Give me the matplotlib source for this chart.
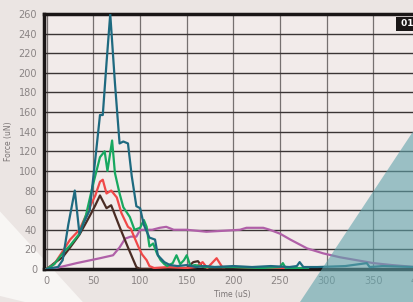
import matplotlib
matplotlib.use("Agg")
import matplotlib.pyplot as plt
from matplotlib.patches import Polygon

# Data (time in uS, force in uN)
blue_t = [0, 5, 12, 17, 23, 30, 35, 40, 46, 53, 57, 60, 64, 68, 73, 78, 82, 87, 91, 96, 100, 104, 110, 116, 119, 126, 132, 140, 150, 160, 170, 180, 200, 220, 240, 260, 268, 271, 275, 290, 320, 343, 346, 360, 395]
blue_f = [0, 1, 2, 9, 45, 80, 36, 48, 60, 121, 157, 157, 210, 260, 190, 128, 130, 128, 95, 64, 62, 45, 32, 30, 14, 7, 4, 3, 4, 2, 3, 2, 3, 2, 3, 2, 3, 7, 2, 2, 3, 6, 2, 3, 2]

green_t = [0, 8, 17, 25, 35, 42, 49, 57, 62, 65, 70, 73, 78, 82, 89, 94, 100, 104, 107, 110, 114, 118, 122, 126, 129, 135, 139, 143, 147, 150, 154, 159, 170, 200, 230, 250, 253, 256, 280]
green_f = [0, 5, 16, 24, 36, 55, 84, 114, 120, 100, 131, 98, 77, 63, 53, 40, 42, 50, 43, 23, 26, 16, 9, 5, 3, 6, 14, 5, 9, 14, 3, 4, 2, 2, 1, 2, 6, 1, 1]

red_t = [0, 8, 17, 25, 35, 46, 52, 57, 60, 64, 69, 75, 80, 87, 90, 94, 98, 102, 107, 110, 115, 130, 150, 160, 167, 172, 182, 188, 200, 230, 260]
red_f = [0, 5, 18, 30, 40, 63, 75, 89, 91, 77, 80, 73, 57, 43, 41, 32, 23, 15, 9, 3, 1, 2, 1, 2, 7, 1, 11, 2, 2, 1, 1]

brown_t = [0, 8, 17, 25, 35, 46, 52, 57, 64, 69, 78, 87, 96, 100, 130, 150, 157, 162, 166, 170, 190]
brown_f = [0, 6, 12, 22, 35, 54, 65, 75, 62, 65, 43, 22, 2, 0, 0, 1, 7, 8, 3, 1, 0]

purple_t = [0, 10, 32, 57, 71, 78, 84, 90, 96, 100, 113, 121, 128, 136, 150, 171, 190, 207, 214, 232, 239, 250, 261, 279, 296, 314, 332, 350, 370, 395]
purple_f = [0, 1, 6, 11, 14, 22, 31, 33, 33, 40, 40, 42, 43, 40, 40, 38, 39, 40, 42, 42, 40, 36, 30, 21, 16, 12, 9, 6, 4, 2]

y_ticks = list(range(0, 261, 20))
x_ticks = list(range(0, 401, 50))

plt.rcParams['font.family'] = ['Liberation Sans Narrow', 'DejaVu Sans']

W, H = 414, 302
fig = plt.figure(figsize=(W / 100, H / 100), dpi=100)
fig.patch.set_facecolor("#ebe5e3")

# decorative whitish band at lower left (behind the axes)
fig.patches.append(Polygon([[0, 0.02], [0.0, 0.30], [0.20, 0.0], [0.06, 0.0]], closed=True,
                           transform=fig.transFigure, facecolor="#f8f6f4",
                           edgecolor="none", zorder=-5))

left_px, right_px, top_px, bot_px = 44, 420, 14, 269
ax = fig.add_axes([left_px / W, 1 - bot_px / H, (right_px - left_px) / W, (bot_px - top_px) / H])
ax.set_facecolor("#f2ebea")

ax.set_xlim(-3, 400)
ax.set_ylim(0, 260)
ax.set_xticks(x_ticks)
ax.set_yticks(y_ticks)
ax.grid(axis="y", color="#3a3434", linewidth=1.0, zorder=1)
ax.grid(axis="x", color="#767070", linewidth=0.9, zorder=1)
ax.set_axisbelow(True)

lw = 1.6
ax.plot(purple_t, purple_f, color="#b060a8", lw=lw, zorder=3)
ax.plot(brown_t, brown_f, color="#4a2c24", lw=lw, zorder=4)
ax.plot(red_t, red_f, color="#f04848", lw=lw, zorder=4)
ax.plot(green_t, green_f, color="#18a860", lw=lw, zorder=5)
ax.plot(blue_t, blue_f, color="#1e6a80", lw=lw, zorder=6)

for s in ["left", "top", "bottom"]:
    ax.spines[s].set_linewidth(2.5)
    ax.spines[s].set_color("#1a1616")
ax.spines["right"].set_visible(False)

ax.tick_params(axis="both", length=0, labelsize=7, labelcolor="#8a8484", pad=5)
ax.set_ylabel("Force (uN)", fontsize=5.5, color="#7a7474", labelpad=4)
ax.set_xlabel("Time (uS)", fontsize=5.5, color="#7a7474", labelpad=3)

# teal translucent triangle in lower right
fig.patches.append(Polygon([[300 / W, 0], [1, 0], [1, 1 - 130 / H]], closed=True,
                           transform=fig.transFigure, facecolor="#5fa3ab",
                           alpha=0.6, edgecolor="none", zorder=10))

# "01" tag
fig.text(1.0, 1 - 24 / H, " 01", ha="right", va="center", fontsize=6.5,
         color="white", fontweight="bold",
         bbox=dict(boxstyle="square,pad=0.3", facecolor="#1a1616", edgecolor="none"))

fig.savefig("out.png", dpi=100, facecolor=fig.get_facecolor())
